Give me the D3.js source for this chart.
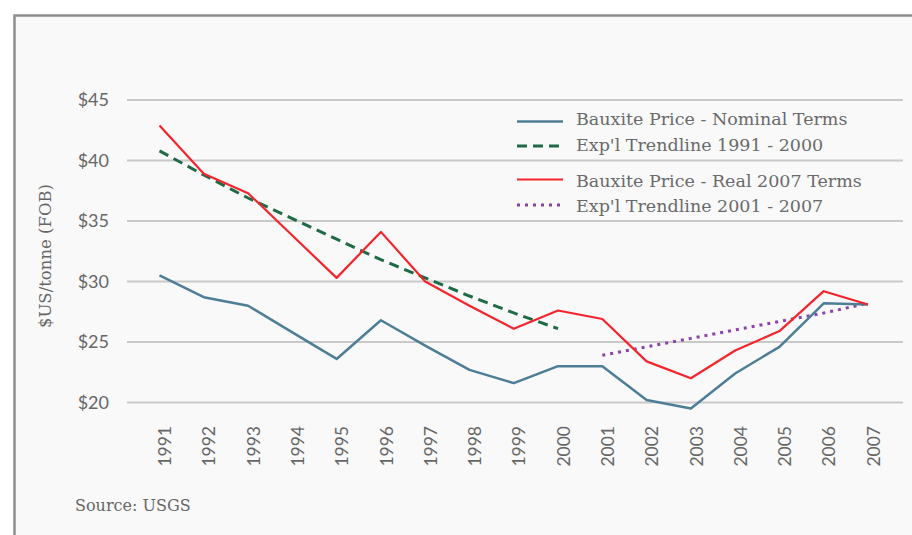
<!DOCTYPE html>
<html>
<head>
<meta charset="utf-8">
<script src="https://cdn.jsdelivr.net/npm/d3@7/dist/d3.min.js"></script>
<style>
  html, body { margin: 0; padding: 0; background: #ffffff; }
  svg { display: block; }
</style>
</head>
<body>
<svg id="chart" width="912" height="535"></svg>
<script>
// ---- data ----
const years = ["1991","1992","1993","1994","1995","1996","1997","1998","1999","2000","2001","2002","2003","2004","2005","2006","2007"];
const nominal = [30.5, 28.7, 28.0, 25.8, 23.6, 26.8, 24.7, 22.7, 21.6, 23.0, 23.0, 20.2, 19.5, 22.4, 24.6, 28.2, 28.1];
const real2007 = [42.9, 38.9, 37.3, 33.8, 30.3, 34.1, 30.0, 28.0, 26.1, 27.6, 26.9, 23.4, 22.0, 24.3, 25.9, 29.2, 28.1];
const trendYears1 = ["1991","1992","1993","1994","1995","1996","1997","1998","1999","2000"];
const trend1 = [40.8, 38.8, 36.9, 35.2, 33.5, 31.8, 30.3, 28.8, 27.4, 26.1];
const trendYears2 = ["2001","2002","2003","2004","2005","2006","2007"];
const trend2 = [23.9, 24.6, 25.3, 26.0, 26.7, 27.4, 28.2];
const yTicks = [20, 25, 30, 35, 40, 45];
const legendLabels = ["Bauxite Price - Nominal Terms", "Exp'l Trendline 1991 - 2000", "Bauxite Price - Real 2007 Terms", "Exp'l Trendline 2001 - 2007"];
const yTitle = "$US/tonne (FOB)";
const sourceText = "Source: USGS";

// ---- styles ----
const C_NOM = "#4d7e96", C_REAL = "#f4242c", C_T1 = "#1f6b45", C_T2 = "#8a44a8";
const SERIF = "'DejaVu Serif', serif";
const SANS = "Lato, 'Open Sans', sans-serif";

const svg = d3.select("#chart");

// frame
svg.append("rect").attr("x", 14.5).attr("y", 15.5).attr("width", 1000).attr("height", 1000)
  .attr("fill", "#f9f9f9").attr("stroke", "#8f8f8f").attr("stroke-width", 2.5);

const x = d3.scalePoint().domain(years).range([159.5, 868]);
const y = d3.scaleLinear().domain([20, 45]).range([402.5, 100]);

// gridlines
svg.append("g").selectAll("line").data(yTicks).join("line")
  .attr("x1", 127).attr("x2", 903)
  .attr("y1", d => y(d)).attr("y2", d => y(d))
  .attr("stroke", "#c9c9c9").attr("stroke-width", 2);

// y axis labels
const yAxis = d3.axisLeft(y).tickValues(yTicks).tickSize(0).tickPadding(0).tickFormat(d => "$" + d);
const gy = svg.append("g").attr("transform", "translate(109,0)").call(yAxis);
gy.select(".domain").remove();
gy.selectAll("text").attr("font-family", SANS).attr("font-size", 18).attr("fill", "#666");

// x axis labels
const xAxis = d3.axisBottom(x).tickSize(0).tickPadding(0);
const gx = svg.append("g").attr("transform", "translate(5,426)").call(xAxis);
gx.select(".domain").remove();
gx.selectAll("text")
  .attr("font-family", SANS).attr("font-size", 17.5).attr("fill", "#666")
  .attr("text-anchor", "end").attr("transform", "rotate(-90)")
  .attr("x", 0).attr("y", 0).attr("dy", "0.35em");

// y title
svg.append("text").attr("transform", "translate(45,256) rotate(-90)")
  .attr("text-anchor", "middle").attr("dy", "0.35em")
  .attr("font-family", SERIF).attr("font-size", 16.5).attr("fill", "#666").text(yTitle);

// source
svg.append("text").attr("x", 75).attr("y", 511)
  .attr("font-family", SERIF).attr("font-size", 16).attr("fill", "#666").text(sourceText);

// lines
const line = (xs, vs) => d3.line().x((d, i) => x(xs[i])).y(d => y(d))(vs);

svg.append("path").attr("d", line(trendYears1, trend1)).attr("fill", "none")
  .attr("stroke", C_T1).attr("stroke-width", 3).attr("stroke-dasharray", "10,6");
svg.append("path").attr("d", line(trendYears2, trend2)).attr("fill", "none")
  .attr("stroke", C_T2).attr("stroke-width", 3).attr("stroke-dasharray", "3,5");
svg.append("path").attr("d", line(years, nominal)).attr("fill", "none")
  .attr("stroke", C_NOM).attr("stroke-width", 2.5).attr("stroke-linejoin", "round");
svg.append("path").attr("d", line(years, real2007)).attr("fill", "none")
  .attr("stroke", C_REAL).attr("stroke-width", 2.2).attr("stroke-linejoin", "round");

// legend
const legendItems = [
  { label: legendLabels[0], color: C_NOM, dash: null, w: 2.5, sy: 121.5, ty: 124.5 },
  { label: legendLabels[1], color: C_T1, dash: "10,6", w: 3, sy: 146, ty: 150.5 },
  { label: legendLabels[2], color: C_REAL, dash: null, w: 2.2, sy: 179.5, ty: 186.5 },
  { label: legendLabels[3], color: C_T2, dash: "3,5", w: 3, sy: 205, ty: 211.5 }
];
const lg = svg.append("g");
legendItems.forEach(it => {
  lg.append("line").attr("x1", 517).attr("x2", 563).attr("y1", it.sy).attr("y2", it.sy)
    .attr("stroke", it.color).attr("stroke-width", it.w).attr("stroke-dasharray", it.dash);
  lg.append("text").attr("x", 576).attr("y", it.ty)
    .attr("font-family", SERIF).attr("font-size", 17.5).attr("fill", "#6a6a6a").text(it.label);
});
</script>
</body>
</html>
